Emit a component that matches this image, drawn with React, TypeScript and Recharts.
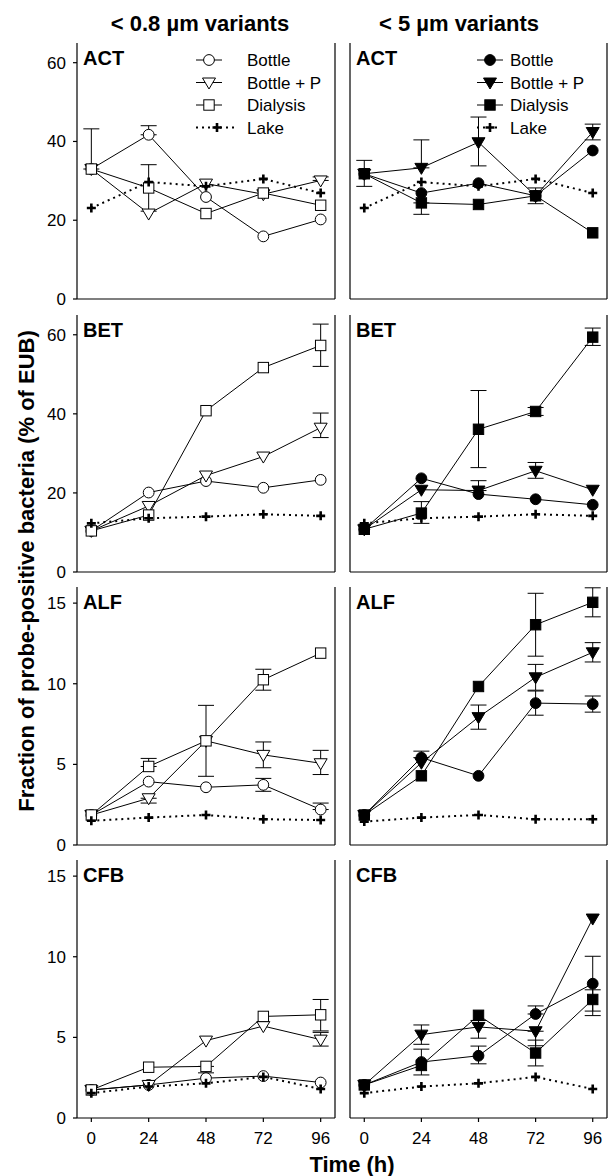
import React from 'react';
import { LineChart, Line, XAxis, YAxis, ErrorBar } from 'recharts';

type Err = [number, number] | null;
const n = null;

const hours = [0, 24, 48, 72, 96];
const panelNames = ['ACT', 'BET', 'ALF', 'CFB'];
const columnTitles = ['< 0.8 µm variants', '< 5 µm variants'];
const seriesNames = ['Bottle', 'Bottle + P', 'Dialysis', 'Lake'];
const ticksHigh = [0, 20, 40, 60];
const ticksLow = [0, 5, 10, 15];

// ACT
const actSmallBottle = [33, 41.7, 25.9, 15.9, 20.2];
const actSmallBottleErr: Err[] = [n, [0, 2.3], n, n, n];
const actSmallBottleP = [33, 21.7, 29.3, 26.6, 30.1];
const actSmallBottlePErr: Err[] = [n, n, n, n, [0, 0.9]];
const actSmallDialysis = [33, 28.2, 21.7, 26.9, 23.8];
const actSmallDialysisErr: Err[] = [[0, 10.2], [5.9, 5.9], n, n, n];
const actLake = [23.1, 29.7, 28.6, 30.5, 26.9];

const actLargeBottle = [31.8, 26.9, 29.4, 26.2, 37.7];
const actLargeBottleErr: Err[] = [n, n, n, [2, 2], n];
const actLargeBottleP = [31.8, 33.3, 39.8, 26.2, 42.4];
const actLargeBottlePErr: Err[] = [n, [0, 7.1], [6, 6.4], n, [2, 2]];
const actLargeDialysis = [31.8, 24.4, 24.0, 26.2, 16.8];
const actLargeDialysisErr: Err[] = [[3.2, 3.4], [2.9, 0], n, n, n];

// BET
const betSmallBottle = [10.4, 20.1, 23.0, 21.3, 23.3];
const betSmallBottleErr: Err[] = [n, n, n, n, n];
const betSmallBottleP = [10.4, 16.7, 24.4, 29.2, 36.5];
const betSmallBottlePErr: Err[] = [n, n, n, n, [2.5, 3.7]];
const betSmallDialysis = [10.4, 14.4, 40.8, 51.7, 57.3];
const betSmallDialysisErr: Err[] = [n, n, n, n, [5.3, 5.4]];
const betLake = [12.3, 13.6, 14.0, 14.6, 14.2];

const betLargeBottle = [10.8, 23.7, 19.7, 18.4, 17.0];
const betLargeBottleErr: Err[] = [n, n, n, n, n];
const betLargeBottleP = [10.8, 20.8, 20.6, 25.6, 20.8];
const betLargeBottlePErr: Err[] = [n, n, [0, 2.5], [1.9, 2.1], n];
const betLargeDialysis = [10.8, 14.9, 36.1, 40.6, 59.4];
const betLargeDialysisErr: Err[] = [n, [2.6, 2.9], [9.7, 9.8], [1, 1], [2.1, 2.3]];

// ALF
const alfSmallBottle = [1.86, 3.93, 3.58, 3.73, 2.2];
const alfSmallBottleErr: Err[] = [n, n, n, [0.4, 0.4], [0, 0.4]];
const alfSmallBottleP = [1.86, 2.9, 6.46, 5.59, 5.07];
const alfSmallBottlePErr: Err[] = [n, [0.3, 0], n, [0.8, 0.8], [0.7, 0.8]];
const alfSmallDialysis = [1.86, 4.87, 6.46, 10.25, 11.9];
const alfSmallDialysisErr: Err[] = [n, [0, 0.5], [2.2, 2.2], [0.65, 0.65], n];
const alfLakeSmall = [1.5, 1.7, 1.86, 1.6, 1.55];

const alfLargeBottle = [1.86, 5.42, 4.29, 8.8, 8.74];
const alfLargeBottleErr: Err[] = [n, [0, 0.4], n, [0.75, 0.75], [0.5, 0.5]];
const alfLargeBottleP = [1.86, 5.1, 7.93, 10.4, 11.95];
const alfLargeBottlePErr: Err[] = [n, n, [0.75, 0.75], [0.8, 0.8], [0.6, 0.6]];
const alfLargeDialysis = [1.86, 4.29, 9.83, 13.66, 15.05];
const alfLargeDialysisErr: Err[] = [n, n, n, [1.95, 1.95], [0.9, 0.9]];
const alfLakeLarge = [1.45, 1.7, 1.86, 1.6, 1.6];

// CFB
const cfbSmallBottle = [1.74, 2.05, 2.47, 2.6, 2.2];
const cfbSmallBottleErr: Err[] = [n, n, n, n, n];
const cfbSmallBottleP = [1.74, 2.05, 4.8, 5.7, 4.86];
const cfbSmallBottlePErr: Err[] = [n, n, n, n, [0.4, 0.45]];
const cfbSmallDialysis = [1.74, 3.15, 3.2, 6.3, 6.4];
const cfbSmallDialysisErr: Err[] = [n, n, [0.4, 0], n, [1, 0.95]];
const cfbLake = [1.54, 1.95, 2.15, 2.55, 1.8];

const cfbLargeBottle = [2.05, 3.47, 3.86, 6.45, 8.33];
const cfbLargeBottleErr: Err[] = [n, [0.8, 0.8], [0.5, 0.6], [0, 0.5], [1.7, 1.7]];
const cfbLargeBottleP = [2.05, 5.17, 5.65, 5.38, 12.37];
const cfbLargeBottlePErr: Err[] = [n, [0.6, 0.6], [0.7, 0.4], [0.9, 0], n];
const cfbLargeDialysis = [2.05, 3.26, 6.37, 4.03, 7.35];
const cfbLargeDialysisErr: Err[] = [n, n, n, [0.8, 0.8], [1, 0.6]];

const FONT = '"Liberation Sans", Arial, Helvetica, sans-serif';

const colLeft = [77, 350];
const colWidth = [258, 257];
const rowTop = [43, 315, 587, 860];
const rowHeight = [256, 257, 258, 258];

const panels = [
  { row: 0, col: 0, b: actSmallBottle, be: actSmallBottleErr, p: actSmallBottleP, pe: actSmallBottlePErr, d: actSmallDialysis, de: actSmallDialysisErr, l: actLake },
  { row: 0, col: 1, b: actLargeBottle, be: actLargeBottleErr, p: actLargeBottleP, pe: actLargeBottlePErr, d: actLargeDialysis, de: actLargeDialysisErr, l: actLake },
  { row: 1, col: 0, b: betSmallBottle, be: betSmallBottleErr, p: betSmallBottleP, pe: betSmallBottlePErr, d: betSmallDialysis, de: betSmallDialysisErr, l: betLake },
  { row: 1, col: 1, b: betLargeBottle, be: betLargeBottleErr, p: betLargeBottleP, pe: betLargeBottlePErr, d: betLargeDialysis, de: betLargeDialysisErr, l: betLake },
  { row: 2, col: 0, b: alfSmallBottle, be: alfSmallBottleErr, p: alfSmallBottleP, pe: alfSmallBottlePErr, d: alfSmallDialysis, de: alfSmallDialysisErr, l: alfLakeSmall },
  { row: 2, col: 1, b: alfLargeBottle, be: alfLargeBottleErr, p: alfLargeBottleP, pe: alfLargeBottlePErr, d: alfLargeDialysis, de: alfLargeDialysisErr, l: alfLakeLarge },
  { row: 3, col: 0, b: cfbSmallBottle, be: cfbSmallBottleErr, p: cfbSmallBottleP, pe: cfbSmallBottlePErr, d: cfbSmallDialysis, de: cfbSmallDialysisErr, l: cfbLake },
  { row: 3, col: 1, b: cfbLargeBottle, be: cfbLargeBottleErr, p: cfbLargeBottleP, pe: cfbLargeBottlePErr, d: cfbLargeDialysis, de: cfbLargeDialysisErr, l: cfbLake },
];

function Marker({ kind, filled, cx, cy }: any) {
  const fill = filled ? '#000' : '#fff';
  if (kind === 'circle') return <circle cx={cx} cy={cy} r={5.4} fill={fill} stroke="#000" strokeWidth={1} />;
  if (kind === 'square') return <rect x={cx - 5.2} y={cy - 5.2} width={10.4} height={10.4} fill={fill} stroke="#000" strokeWidth={1} />;
  if (kind === 'tri')
    return (
      <polygon
        points={`${cx - 6.5},${cy - 4.5} ${cx + 6.5},${cy - 4.5} ${cx},${cy + 6.5}`}
        fill={fill}
        stroke="#000"
        strokeWidth={1}
      />
    );
  return (
    <path d={`M${cx - 4.5},${cy}H${cx + 4.5}M${cx},${cy - 4.5}V${cy + 4.5}`} stroke="#000" strokeWidth={2.6} fill="none" />
  );
}

const makeDot = (kind: string, filled: boolean) => (props: any) => {
  const { cx, cy, index } = props;
  if (cx == null || cy == null) return <g key={`e${index}`} />;
  return <Marker key={`m${index}`} kind={kind} filled={filled} cx={cx} cy={cy} />;
};

function Panel({ cfg }: any) {
  const { row, col } = cfg;
  const filled = col === 1;
  const high = row < 2;
  const ticks = high ? ticksHigh : ticksLow;
  const domain = high ? [0, 65] : [0, 16];
  const w = colWidth[col] + 50;
  const h = rowHeight[row] + 50;
  const data = hours.map((t, i) => ({
    t,
    bottle: cfg.b[i],
    bottleErr: cfg.be[i],
    bottleP: cfg.p[i],
    bottlePErr: cfg.pe[i],
    dialysis: cfg.d[i],
    dialysisErr: cfg.de[i],
    lake: cfg.l[i],
  }));
  const tickFont = { fontSize: 17, fill: '#000', fontFamily: FONT };
  const axisStyle = { stroke: '#000', strokeWidth: 1.2 };
  return (
    <div style={{ position: 'absolute', left: colLeft[col] - 40, top: rowTop[row] - 10 }}>
      <LineChart width={w} height={h} data={data} margin={{ top: 10, right: 0, bottom: 0, left: 0 }}>
        <XAxis
          dataKey="t"
          type="number"
          domain={[-6, 102]}
          ticks={hours}
          allowDataOverflow
          height={40}
          tickSize={4}
          tickMargin={10}
          axisLine={axisStyle}
          tickLine={axisStyle}
          tick={row === 3 ? tickFont : false}
        />
        <XAxis
          xAxisId="top"
          orientation="top"
          dataKey="t"
          type="number"
          domain={[-6, 102]}
          ticks={hours}
          height={0}
          axisLine={axisStyle}
          tickLine={false}
          tick={false}
        />
        <YAxis
          type="number"
          domain={domain}
          ticks={ticks}
          allowDataOverflow
          width={40}
          tickSize={4}
          tickMargin={7}
          axisLine={axisStyle}
          tickLine={axisStyle}
          tick={col === 0 ? tickFont : false}
        />
        <YAxis
          yAxisId="right"
          orientation="right"
          type="number"
          domain={domain}
          ticks={ticks}
          width={10}
          tickSize={4}
          axisLine={axisStyle}
          tickLine={axisStyle}
          tick={false}
        />
        <Line dataKey="bottle" stroke="#000" strokeWidth={1} dot={makeDot('circle', filled)} activeDot={false} isAnimationActive={false}>
          <ErrorBar dataKey="bottleErr" width={8} stroke="#000" strokeWidth={1} direction="y" />
        </Line>
        <Line dataKey="bottleP" stroke="#000" strokeWidth={1} dot={makeDot('tri', filled)} activeDot={false} isAnimationActive={false}>
          <ErrorBar dataKey="bottlePErr" width={8} stroke="#000" strokeWidth={1} direction="y" />
        </Line>
        <Line dataKey="dialysis" stroke="#000" strokeWidth={1} dot={makeDot('square', filled)} activeDot={false} isAnimationActive={false}>
          <ErrorBar dataKey="dialysisErr" width={8} stroke="#000" strokeWidth={1} direction="y" />
        </Line>
        <Line
          dataKey="lake"
          stroke="#000"
          strokeWidth={2}
          strokeDasharray="2 4"
          dot={makeDot('plus', true)}
          activeDot={false}
          isAnimationActive={false}
        />
      </LineChart>
    </div>
  );
}

function LegendBlock({ col }: { col: number }) {
  const filled = col === 1;
  const rowsY = [60, 82.5, 105, 127.5];
  const x0 = col === 0 ? 196 : 477;
  const x1 = col === 0 ? 222 : 503;
  const mx = col === 0 ? 209 : 490;
  const tx = col === 0 ? 247 : 510;
  const kinds = ['circle', 'tri', 'square'];
  return (
    <g>
      {seriesNames.map((name, i) => {
        const y = rowsY[i];
        const isLake = i === 3;
        return (
          <g key={name}>
            {isLake ? (
              <>
                <line x1={x0} x2={col === 0 ? 238 : 500} y1={y} y2={y} stroke="#000" strokeWidth={2} strokeDasharray="2 4" />
                <Marker kind="plus" cx={col === 0 ? 217 : mx} cy={y} />
              </>
            ) : (
              <>
                <line x1={x0} x2={x1} y1={y} y2={y} stroke="#000" strokeWidth={1} />
                <Marker kind={kinds[i]} filled={filled} cx={mx} cy={y} />
              </>
            )}
            <text x={tx} y={y + 6} fontSize={17} fontFamily={FONT} fill="#000">
              {name}
            </text>
          </g>
        );
      })}
    </g>
  );
}

export default function App() {
  return (
    <div style={{ position: 'absolute', left: 0, top: 0, width: 608, height: 1176, overflow: 'hidden', background: '#fff' }}>
      {panels.map((cfg, i) => (
        <Panel key={i} cfg={cfg} />
      ))}
      <svg width={608} height={1176} style={{ position: 'absolute', left: 0, top: 0, pointerEvents: 'none' }}>
        <text x={200} y={31} textAnchor="middle" fontSize={22} fontWeight="bold" fontFamily={FONT}>
          {columnTitles[0]}
        </text>
        <text x={459} y={31} textAnchor="middle" fontSize={22} fontWeight="bold" fontFamily={FONT}>
          {columnTitles[1]}
        </text>
        {rowTop.map((top, r) =>
          colLeft.map((left, c) => (
            <text key={`${r}-${c}`} x={left + 6} y={top + 22} fontSize={20} fontWeight="bold" fontFamily={FONT}>
              {panelNames[r]}
            </text>
          ))
        )}
        <LegendBlock col={0} />
        <LegendBlock col={1} />
        <text
          x={34}
          y={571}
          transform="rotate(-90 34 571)"
          textAnchor="middle"
          fontSize={22}
          fontWeight="bold"
          fontFamily={FONT}
        >
          Fraction of probe-positive bacteria (% of EUB)
        </text>
        <text x={352} y={1172} textAnchor="middle" fontSize={22} fontWeight="bold" fontFamily={FONT}>
          Time (h)
        </text>
      </svg>
    </div>
  );
}
